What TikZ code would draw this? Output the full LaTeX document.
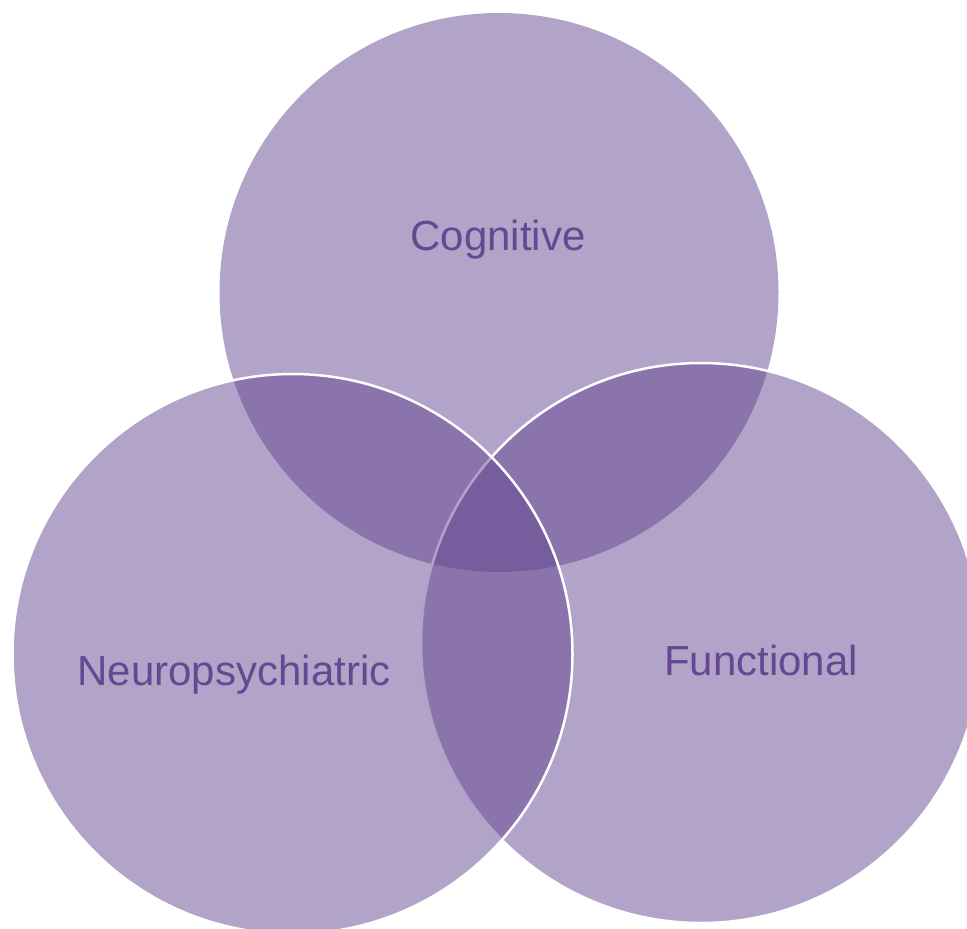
\documentclass[tikz,border=0pt]{standalone}
\usepackage{fontspec}
\setmainfont{Liberation Sans}
\definecolor{venn}{RGB}{101,71,145}
\definecolor{lbl}{RGB}{102,72,146}
\begin{document}
\begin{tikzpicture}[x=1pt,y=-1pt,
  vcircle/.style={circle, minimum size=560pt, inner sep=0pt, fill=venn, fill opacity=0.5},
  vedge/.style={draw=white, line width=2.5pt},
  vlabel/.style={text=lbl, font=\fontsize{42}{50}\selectfont, inner sep=0pt, anchor=base}]
\useasboundingbox (0,0) rectangle (967,929);
\node[vcircle, minimum size=559pt] (cog) at (499,292.5) {};
\node[vcircle, vedge] (fun) at (701,643) {};
\node[vcircle, vedge] (neu) at (292.5,654) {};
\node[vlabel] (cogt) at (498,250) {Cognitive};
\node[vlabel] (neut) at (234,685) {Neuropsychiatric};
\node[vlabel] (funt) at (761,675) {Functional};
\end{tikzpicture}
\end{document}
